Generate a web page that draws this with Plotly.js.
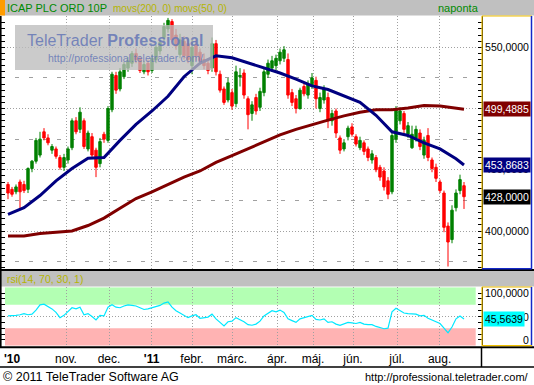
<!DOCTYPE html>
<html><head><meta charset="utf-8">
<script src="https://cdn.plot.ly/plotly-3.0.1.min.js"></script>
<style>html,body{margin:0;padding:0;background:#fff}#chart{width:534px;height:385px}</style>
</head><body><div id="chart"></div>
<script>
// ---- data ----
const opens = [438,434,432,440,438,434,451,457,462,481,
 476,466,467,460,452,458,468,490,483,490,
 467,477,466,455,479,474,499,527,516,526,
 533,537,545,541,530,537,531,540,547,558,
 565,571,560,544,555,553,535,552,546,540,
 537,533,553,528,516,507,513,504,526,529,
 508,496,509,501,513,528,533,535,539,541,
 540,513,508,500,518,511,518,523,500,507,
 509,490,498,476,467,477,485,477,468,472,
 467,458,460,452,449,441,432,475,490,496,
 479,468,476,480,462,478,458,452,440,431,
 404,393,419,433,437];
const highs = [440,436,438,442,441,452,458,476,481,484,
 479,471,469,462,463,469,492,493,501,492,
 482,480,468,476,481,502,530,530,533,538,
 542,547,549,543,539,540,544,552,556,570,
 574,573,565,561,559,558,556,556,549,545,
 541,558,556,531,518,525,516,535,533,532,
 510,506,512,517,533,540,543,544,549,551,
 545,516,511,517,521,523,529,526,513,519,
 513,499,500,478,475,486,488,479,477,474,
 469,466,462,454,452,444,482,502,501,498,
 489,486,486,483,477,484,460,455,442,433,
 407,421,434,446,440];
const lows = [426,428,430,418,431,431,448,455,460,474,
 470,463,459,450,449,455,466,479,480,467,
 465,460,444,452,472,472,497,512,514,524,
 530,534,537,529,528,527,529,537,544,555,
 562,554,548,541,540,537,528,539,536,532,
 528,530,527,513,503,505,499,501,518,508,
 483,490,495,498,510,525,530,531,536,538,
 508,502,496,499,510,508,516,500,497,504,
 484,486,476,463,465,474,477,469,466,462,
 457,455,448,441,433,426,430,472,487,480,
 476,467,473,466,459,457,448,440,431,399,
 371,390,416,430,418];
const closes = [431,430,436,432,433,451,457,474,475,476,
 472,469,461,452,460,467,490,481,497,469,
 480,462,452,473,475,500,528,515,530,536,
 539,545,540,531,536,530,541,550,554,567,
 572,556,551,556,543,540,550,543,539,535,
 531,553,530,515,505,521,502,530,527,511,
 495,503,498,514,530,537,539,541,546,548,
 511,505,500,515,512,520,525,508,509,516,
 490,496,480,466,472,484,479,471,474,465,
 460,463,450,444,436,430,478,499,498,483,
 486,479,483,469,474,460,451,443,433,403,
 391,417,431,442,428];

const maIndex = [0,4,8,12,16,20,24,28,32,36,40,44,48,52,56,60,64,68,72,76,80,84,88,92,96,100,104,108,112,114];
const ma50 = [413.5,419,429,441,451,459.5,460,474,487,498,510,526,537,543,541.5,537.5,533,529,524,518.5,
 515.5,510,505,494.5,481,478,472,467,459,453.8683];
const ma200 = [396,396,398,399,400,404.5,410.5,418.5,426.5,432,438,444,449,456,461.5,467,472.5,478.5,483,487,
 490.5,494,497,499,499,500.5,502.5,502,500,499.4885];

const rsiValues = [51,51,52,53,55,53,54,61,70,71,
 67,63,57,48,52,58,65,63,66,53,
 55,50,44,52,51,66,70,66,65,68,
 70,69,68,65,62,63,65,67,69,73,
 75,66,60,56,52,48,51,53,47,48,
 49,54,46,40,34,41,42,48,45,41,
 36,35,37,42,51,56,60,58,61,57,
 46,43,40,46,48,51,52,45,44,46,
 40,41,37,35,37,40,39,38,40,37,
 36,36,33,31,29,30,58,64,60,56,
 55,54,54,51,52,47,44,42,38,30,
 22,32,46,51,45.5639];
const rsiUpper = 70, rsiLower = 30;

const monthStartIdx = [14.5,25.25,35.9,46,56,67.25,76.25,86.25,97.25,107.9];
const labelIdx = [1,14.5,25.25,35.9,46,56,67.25,76.25,86.25,97.25,107.9];
const labelText = ["<b>'10</b>","nov.","dec.","<b>'11</b>","febr.","márc.","ápr.","máj.","jún.","júl.","aug."];
const priceTicks = [400,450,500,550];
const priceHalfTicks = [375,425,475,525,575];

// ---- layout helpers ----
const W = 534, H = 385;
const px = x => x / W;
const py = y => 1 - y / H;
const FONT = '"Liberation Sans", Arial, sans-serif';
const fmt = v => v.toFixed(4).replace('.', ',');
const idx = opens.map((_, i) => i);
const xRange = [-1.75, 118.375];
const yRange = [368.97, 575.56];
const GRID = '#a0a0a0';

const traces = [
  {type:'candlestick', x: idx, open: opens, high: highs, low: lows, close: closes,
   xaxis:'x', yaxis:'y', whiskerwidth:0, hoverinfo:'skip',
   increasing:{line:{color:'#008000', width:1}, fillcolor:'#008000'},
   decreasing:{line:{color:'#ff0000', width:1}, fillcolor:'#ff0000'}},
  {type:'scatter', mode:'lines', x: maIndex, y: ma200, xaxis:'x', yaxis:'y',
   line:{color:'#800000', width:3}, hoverinfo:'skip'},
  {type:'scatter', mode:'lines', x: maIndex, y: ma50, xaxis:'x', yaxis:'y',
   line:{color:'#000080', width:3}, hoverinfo:'skip'},
  {type:'scatter', mode:'lines', x: idx, y: rsiValues, xaxis:'x2', yaxis:'y2',
   line:{color:'#00e8ff', width:1.2}, hoverinfo:'skip'},
  {type:'scatter', x: [], y: [], xaxis:'x', yaxis:'y3', hoverinfo:'skip'},
  {type:'scatter', x: [], y: [], xaxis:'x3', yaxis:'y2', hoverinfo:'skip'}
];

const line = (x0,y0,x1,y1,color,w) => ({type:'line', xref:'paper', yref:'paper',
  x0:px(x0), y0:py(y0), x1:px(x1), y1:py(y1), line:{color:color, width:w}, layer:'above'});
const rect = (x0,y0,x1,y1,fill) => ({type:'rect', xref:'paper', yref:'paper',
  x0:px(x0), y0:py(y0), x1:px(x1), y1:py(y1), fillcolor:fill, line:{width:0}, layer:'above'});

const YEL = '#f0c000', BLU = '#1428c8';
const shapes = [
  {type:'rect', xref:'paper', yref:'y2', x0:px(5), x1:px(475.7), y0:rsiUpper, y1:100,
   fillcolor:'#b3ffb3', line:{width:0}, layer:'below'},
  {type:'rect', xref:'paper', yref:'y2', x0:px(5), x1:px(475.7), y0:0, y1:rsiLower,
   fillcolor:'#ffb3b3', line:{width:0}, layer:'below'},
  rect(15,25,213,70,'rgba(188,188,188,0.78)'),
  rect(0,0,534,15.5,'#c0c0c0'),
  rect(0,0,5,15.5,'#ff9c00'),
  line(0,270,534,270,'#000',2),
  rect(0,271,534,286.5,'#c0c0c0'),
  line(0,347.2,534,347.2,'#000',2),
  line(0,367,534,367,'#000',1.5),
  line(481.5,347,481.5,367,'#000',1.5),
  line(0.8,16,0.8,347,'#000',1.6),
  // main axis box
  line(482,16,482,269,YEL,1.2), line(482,16,532,16,YEL,1.2),
  line(531.5,16,531.5,269,BLU,1.5), line(482,268.8,532,268.8,BLU,1.5),
  // rsi axis box
  line(482,287,482,345.7,YEL,1.2), line(482,287,532,287,YEL,1.2),
  line(531.5,287,531.5,345.7,BLU,1.5), line(482,345.7,532,345.7,YEL,1.2)
];

const last = a => a[a.length - 1];
const ann = (text, x, y, opts) => Object.assign({text:text, xref:'paper', yref:'paper',
  x:px(x), y:py(y), showarrow:false, xanchor:'left', yanchor:'middle'}, opts || {});
const WM = 'rgba(100,118,182,0.85)';
const annotations = [
  ann('ICAP PLC ORD 10P', 5, 8, {font:{family:FONT, size:11, color:'#008a00'}}),
  ann('movs(200, 0) movs(50, 0)', 111, 8.5, {font:{family:FONT, size:10, color:'#b4b400'}}),
  ann('naponta', 458, 8, {xanchor:'center', font:{family:FONT, size:11, color:'#008a00'}}),
  ann('rsi(14, 70, 30, 1)', 5, 279, {font:{family:FONT, size:10.5, color:'#b4b400'}}),
  ann('TeleTrader <b>Professional</b>', 25, 40, {font:{family:FONT, size:16, color:WM}}),
  ann('http://professional.teletrader.com/', 46, 57.5, {font:{family:FONT, size:10.5, color:WM}}),
  ann('© 2011 TeleTrader Software AG', 1, 377, {font:{family:FONT, size:12.5, color:'#000'}}),
  ann('http://professional.teletrader.com/', 531, 377, {xanchor:'right', font:{family:FONT, size:11, color:'#000'}}),
  ann('100,0000', 530.5, 292.7, {xanchor:'right', font:{family:FONT, size:10.5, color:'#000'}}),
  ann('50,0000', 530.5, 316.5, {xanchor:'right', font:{family:FONT, size:10.5, color:'#000'}}),
  ann('0', 530.5, 340, {xanchor:'right', font:{family:FONT, size:10.5, color:'#000'}}),
  {text: fmt(last(ma200)), xref:'paper', yref:'y', x:px(482.5), y:last(ma200), xanchor:'left', yanchor:'middle',
   showarrow:false, bgcolor:'#800000', borderpad:1, font:{family:FONT, size:10.5, color:'#fff'}},
  {text: fmt(last(ma50)), xref:'paper', yref:'y', x:px(482.5), y:last(ma50), xanchor:'left', yanchor:'middle',
   showarrow:false, bgcolor:'#000080', borderpad:1, font:{family:FONT, size:10.5, color:'#fff'}},
  {text: fmt(last(closes)), xref:'paper', yref:'y', x:px(482.5), y:last(closes), xanchor:'left', yanchor:'middle',
   showarrow:false, bgcolor:'#000000', borderpad:1, font:{family:FONT, size:10.5, color:'#fff'}},
  {text: fmt(last(rsiValues)), xref:'paper', yref:'y2', x:px(483), y:last(rsiValues), xanchor:'left', yanchor:'middle',
   showarrow:false, bgcolor:'#00ffff', borderpad:1, font:{family:FONT, size:10.5, color:'#000'}}
];

const layout = {
  width: W, height: H, margin:{l:0, r:0, t:0, b:0},
  paper_bgcolor:'#fff', plot_bgcolor:'#fff', showlegend:false, hovermode:false, dragmode:false,
  boxgap: 0.15,
  xaxis: {domain:[px(1), px(481.5)], range:xRange, anchor:'y', tickmode:'array', tickvals:monthStartIdx,
    showgrid:true, gridcolor:GRID, griddash:'1px,2px', gridwidth:1, showticklabels:false, ticks:'',
    zeroline:false, showline:false, rangeslider:{visible:false}, fixedrange:true},
  yaxis: {domain:[py(269), py(16)], range:yRange, anchor:'x', side:'right', tickmode:'array',
    tickvals:priceTicks, ticktext:priceTicks.map(fmt), showgrid:true, gridcolor:GRID, griddash:'1px,2px',
    ticks:'inside', ticklen:4, tickwidth:1, tickcolor:'#000', showline:true, linecolor:'#000', linewidth:1.5,
    mirror:'allticks', zeroline:false, fixedrange:true,
    minor:{tickmode:'linear', tick0:0, dtick:5, ticks:'inside', ticklen:4, tickwidth:1, tickcolor:'#000', showgrid:false},
    tickfont:{family:FONT, size:10.5, color:'#000'}},
  yaxis3: {overlaying:'y', anchor:'x', side:'right', range:yRange, tickmode:'array', tickvals:priceHalfTicks,
    showgrid:true, gridcolor:GRID, griddash:'4px,10px', gridwidth:1, showticklabels:false, ticks:'',
    showline:false, zeroline:false, fixedrange:true},
  xaxis2: {domain:[px(1), px(481.5)], range:xRange, anchor:'y2', tickmode:'array', tickvals:monthStartIdx,
    showgrid:true, gridcolor:GRID, griddash:'1px,2px', showticklabels:false, ticks:'', zeroline:false,
    showline:false, fixedrange:true},
  yaxis2: {domain:[py(345.7), py(287.3)], range:[0,100], anchor:'x2', side:'right', tickmode:'array',
    tickvals:[0,50,100], showticklabels:false, showgrid:true, gridcolor:GRID, griddash:'1px,2px',
    ticks:'inside', ticklen:4, tickcolor:'#000', showline:true, linecolor:'#000', linewidth:1.5,
    mirror:'allticks', zeroline:false, fixedrange:true,
    minor:{tickmode:'linear', tick0:0, dtick:10, ticks:'inside', ticklen:4, tickcolor:'#000', showgrid:false}},
  xaxis3: {overlaying:'x2', anchor:'y2', side:'bottom', range:xRange, tickmode:'array', tickvals:labelIdx,
    ticktext:labelText, showgrid:false, ticks:'', showline:false, zeroline:false, fixedrange:true,
    ticklabelstandoff:4, tickfont:{family:FONT, size:12, color:'#000'}},
  shapes: shapes,
  annotations: annotations
};

Plotly.newPlot('chart', traces, layout, {staticPlot:true, displayModeBar:false});
</script>
</body></html>
